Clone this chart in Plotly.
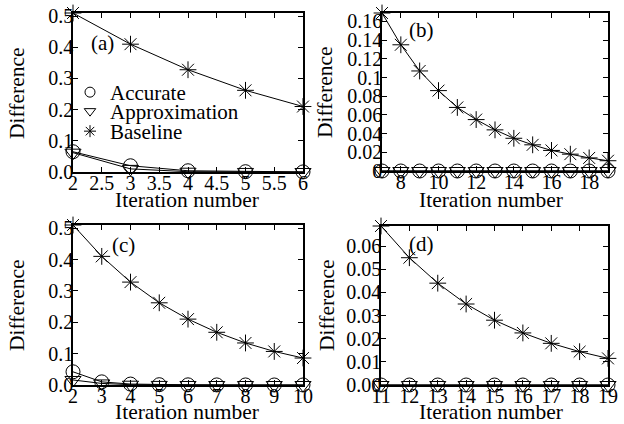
import plotly.graph_objects as go

# ---- data ----
iter_a = [2, 3, 4, 5, 6]
acc_a = [0.065, 0.02, 0.004, 0.001, 0.0003]
app_a = [0.062, 0.01, 0.001, 0.0002, 0.0]
base_a = [0.51, 0.41, 0.328, 0.262, 0.21]

iter_b = [7, 8, 9, 10, 11, 12, 13, 14, 15, 16, 17, 18, 19]
acc_b = [0.0] * 13
app_b = [0.0] * 13
base_b = [0.169, 0.135, 0.107, 0.086, 0.068, 0.055, 0.044, 0.035, 0.028, 0.022, 0.018, 0.014, 0.011]

iter_c = [2, 3, 4, 5, 6, 7, 8, 9, 10]
acc_c = [0.042, 0.01, 0.003, 0.001, 0.0005, 0.0003, 0.0002, 0.0001, 0.0001]
app_c = [0.016, 0.005, 0.001, 0.0003, 0.0001, 0.0, 0.0, 0.0, 0.0]
base_c = [0.51, 0.41, 0.328, 0.262, 0.21, 0.168, 0.134, 0.107, 0.086]

iter_d = [11, 12, 13, 14, 15, 16, 17, 18, 19]
acc_d = [0.0] * 9
app_d = [0.0] * 9
base_d = [0.0687, 0.055, 0.044, 0.035, 0.028, 0.0225, 0.018, 0.0144, 0.0115]

series_names = ["Accurate", "Approximation", "Baseline"]
panel_labels = ["(a)", "(b)", "(c)", "(d)"]
x_title = "Iteration number"
y_title = "Difference"

xticks_a = [2, 2.5, 3, 3.5, 4, 4.5, 5, 5.5, 6]
xticks_b = [8, 10, 12, 14, 16, 18]
xticks_c = [2, 3, 4, 5, 6, 7, 8, 9, 10]
xticks_d = [11, 12, 13, 14, 15, 16, 17, 18, 19]
yticks_a = [0.0, 0.1, 0.2, 0.3, 0.4, 0.5]
yticks_b = [0, 0.02, 0.04, 0.06, 0.08, 0.1, 0.12, 0.14, 0.16]
yticks_c = [0.0, 0.1, 0.2, 0.3, 0.4, 0.5]
yticks_d = [0.0, 0.01, 0.02, 0.03, 0.04, 0.05, 0.06]

# ---- style ----
FONT = "Liberation Serif, Times New Roman, serif"
W, H = 624, 424
symbols = ["circle-open", "triangle-down-open", "asterisk-open"]
sizes = [14, 14, 14]

fig = go.Figure()

panels = [
    (iter_a, [acc_a, app_a, base_a], "x", "y"),
    (iter_b, [acc_b, app_b, base_b], "x2", "y2"),
    (iter_c, [acc_c, app_c, base_c], "x3", "y3"),
    (iter_d, [acc_d, app_d, base_d], "x4", "y4"),
]

for xs, ys_list, xa, ya in panels:
    for ys, sym, sz in zip(ys_list, symbols, sizes):
        fig.add_trace(go.Scatter(
            x=xs, y=ys, xaxis=xa, yaxis=ya, mode="lines+markers",
            line=dict(color="black", width=1),
            marker=dict(symbol=sym, size=sz, color="black",
                        line=dict(color="black", width=1)),
            showlegend=False, cliponaxis=False,
        ))

# legend-only entries (markers only), one legend per row for tight spacing
legend_ids = ["legend", "legend2", "legend3"]
for name, sym, lg in zip(series_names, symbols, legend_ids):
    fig.add_trace(go.Scatter(
        x=[None], y=[None], mode="markers", name=name, legend=lg,
        marker=dict(symbol=sym, size=10, color="black",
                    line=dict(color="black", width=1)),
        showlegend=True,
    ))

def px_x(a, b):
    return [a / W, b / W]

def px_y(top, bottom):
    return [1 - bottom / H, 1 - top / H]

axis_common = dict(
    showline=True, linecolor="black", linewidth=1.5, mirror="allticks",
    ticks="inside", ticklen=5, tickcolor="black", tickwidth=1,
    showgrid=False, zeroline=False, automargin=False,
    tickfont=dict(family=FONT, size=20, color="black"),
)
xax = dict(axis_common, ticklabelstandoff=-8)
yax = dict(axis_common, ticklabelstandoff=-6)

leg_common = dict(xanchor="left", yanchor="top", bgcolor="rgba(0,0,0,0)",
                  font=dict(family=FONT, size=21, color="black"),
                  itemwidth=30, borderwidth=0)
row_centers = [93, 112, 132]
LEG_OFF = 21

fig.update_layout(
    template="none",
    width=W, height=H,
    margin=dict(l=0, r=0, t=0, b=0, autoexpand=False),
    paper_bgcolor="white", plot_bgcolor="white",
    font=dict(family=FONT, color="black"),
    showlegend=True,
    legend=dict(leg_common, x=70 / W, y=1 - (row_centers[0] - LEG_OFF) / H),
    legend2=dict(leg_common, x=70 / W, y=1 - (row_centers[1] - LEG_OFF) / H),
    legend3=dict(leg_common, x=70 / W, y=1 - (row_centers[2] - LEG_OFF) / H),
    xaxis=dict(xax, domain=px_x(73, 303), range=[2, 6], tickvals=xticks_a, anchor="y"),
    yaxis=dict(yax, domain=px_y(13, 172), range=[0, 0.51], tickvals=yticks_a,
               tickformat=".1f", anchor="x"),
    xaxis2=dict(xax, domain=px_x(382, 608), range=[7, 19], tickvals=xticks_b, anchor="y2"),
    yaxis2=dict(yax, domain=px_y(13, 171), range=[0, 0.169], tickvals=yticks_b, anchor="x2"),
    xaxis3=dict(xax, domain=px_x(73, 303), range=[2, 10], tickvals=xticks_c, anchor="y3"),
    yaxis3=dict(yax, domain=px_y(225, 385), range=[0, 0.51], tickvals=yticks_c,
                tickformat=".1f", anchor="x3"),
    xaxis4=dict(xax, domain=px_x(381, 608), range=[11, 19], tickvals=xticks_d, anchor="y4"),
    yaxis4=dict(yax, domain=px_y(226, 385), range=[0, 0.0687], tickvals=yticks_d,
                tickformat=".2f", anchor="x4"),
)

# panel labels
label_pos = [("x", "y", 2.52, 0.414), ("x2", "y2", 9.12, 0.151),
             ("x3", "y3", 3.74, 0.446), ("x4", "y4", 12.44, 0.0609)]
for lab, (xr, yr, xv, yv) in zip(panel_labels, label_pos):
    fig.add_annotation(x=xv, y=yv, xref=xr, yref=yr, text=lab, showarrow=False,
                       font=dict(family=FONT, size=21, color="black"))

# axis titles (pixel positions of their centres)
xt_pos = [(187, 200), (491, 200), (187, 412), (491, 412)]
yt_pos = [(17, 93), (325, 92), (17, 305), (327, 305)]
for (px, py) in xt_pos:
    fig.add_annotation(x=px / W, y=1 - py / H, xref="paper", yref="paper",
                       text=x_title, showarrow=False, xanchor="center", yanchor="middle",
                       font=dict(family=FONT, size=21.5, color="black"))
for (px, py) in yt_pos:
    fig.add_annotation(x=px / W, y=1 - py / H, xref="paper", yref="paper",
                       text=y_title, showarrow=False, textangle=-90,
                       xanchor="center", yanchor="middle",
                       font=dict(family=FONT, size=21.5, color="black"))

fig.write_html("out.html", config={"displayModeBar": False},
               post_script="document.body.style.margin='0';document.body.style.overflow='hidden';")
